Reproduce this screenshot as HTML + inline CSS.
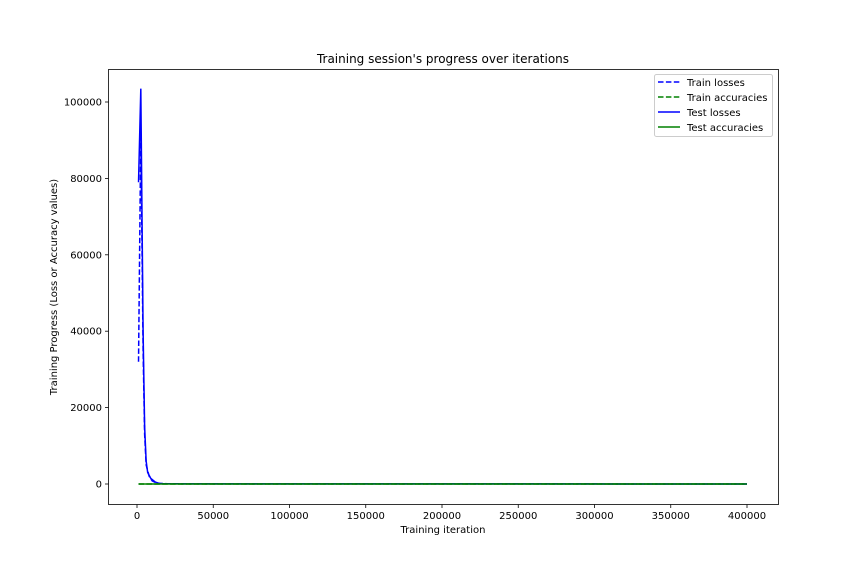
<!DOCTYPE html>
<html><head><meta charset="utf-8"><style>
body{margin:0;background:#fff}
svg text{font-family:"DejaVu Sans","Liberation Sans",sans-serif;fill:#000}
</style></head><body>
<svg id="chart" width="864" height="576" viewBox="0 0 864 576" xmlns="http://www.w3.org/2000/svg">
<rect width="864" height="576" fill="#fff"/>
<text x="443" y="63" font-size="12" text-anchor="middle">Training session's progress over iterations</text>
<g id="grid"></g>
<g id="series"></g>
<rect x="108.5" y="69.5" width="670" height="435" fill="none" stroke="#000" stroke-width="0.8"/>
<g id="ticks"></g>
<text x="443" y="533" font-size="10" text-anchor="middle">Training iteration</text>
<text transform="translate(57,287) rotate(-90)" font-size="10" text-anchor="middle">Training Progress (Loss or Accuracy values)</text>
<g>
<rect x="654.5" y="74.5" width="118" height="62" rx="2" fill="#fff" stroke="#ccc"/>
<line x1="658" y1="82" x2="680" y2="82" stroke="#0000ff" stroke-width="1.5" stroke-dasharray="5.5,2.4"/>
<text x="687" y="86" font-size="10">Train losses</text>
<line x1="658" y1="97" x2="680" y2="97" stroke="#008000" stroke-width="1.5" stroke-dasharray="5.5,2.4"/>
<text x="687" y="101" font-size="10">Train accuracies</text>
<line x1="658" y1="112" x2="680" y2="112" stroke="#0000ff" stroke-width="1.5"/>
<text x="687" y="116" font-size="10">Test losses</text>
<line x1="658" y1="127" x2="680" y2="127" stroke="#008000" stroke-width="1.5"/>
<text x="687" y="131" font-size="10">Test accuracies</text>
</g>
</svg>
<script>
const xTicks=[0,50000,100000,150000,200000,250000,300000,350000,400000];
const yTicks=[0,20000,40000,60000,80000,100000];
const trainIters=[1000,2500,4000,5000,6000,8000,10000,13000,20000,400000];
const trainLosses=[32000,92000,35000,13000,5000,2000,800,200,50,5];
const testIters=[1000,2500,4000,5000,6000,7000,9000,12000,15000,20000,400000];
const testLosses=[79000,103500,40000,15000,6000,3000,1500,500,100,50,5];
const accIters=[1000,400000];
const trainAcc=[0.5,0.9];
const testAcc=[0.5,0.9];
const NS='http://www.w3.org/2000/svg';
function xs(v){return 137+v*(747-137)/400000;}
function ys(v){return 484-v*(484-102)/100000;}
const tk=document.getElementById('ticks');
function mk(tag,attrs,parent){const e=document.createElementNS(NS,tag);for(const k in attrs)e.setAttribute(k,attrs[k]);parent.appendChild(e);return e;}
xTicks.forEach(t=>{
 const l=mk('line',{x1:xs(t),x2:xs(t),y1:504.5,y2:508,stroke:'#000','stroke-width':0.8},tk);
 
 
 const tx=mk('text',{x:xs(t),y:519,'font-size':10,'text-anchor':'middle'},tk);
 tx.textContent=t;
 
 
});
yTicks.forEach(t=>{
 const l=mk('line',{x1:105,x2:108.5,y1:ys(t),y2:ys(t),stroke:'#000','stroke-width':0.8},tk);
 
 
 const tx=mk('text',{x:102,y:ys(t)+3.5,'font-size':10,'text-anchor':'end'},tk);
 tx.textContent=t;
 
 
});
const sg=document.getElementById('series');
function line(xsArr,vals,color,dash,name){
 const p=mk('polyline',{points:xsArr.map((x,i)=>xs(x)+','+ys(vals[i])).join(' '),fill:'none',stroke:color,'stroke-width':1.5},sg);
 if(dash)p.setAttribute('stroke-dasharray','5.5,2.4');
 
 
}
line(trainIters,trainLosses,'#0000ff',true,'train-losses-line');
line(testIters,testLosses,'#0000ff',false,'test-losses-line');
line(accIters,trainAcc,'#008000',true,'train-accuracies-line');
line(accIters,testAcc,'#008000',false,'test-accuracies-line');
</script>
</body></html>
